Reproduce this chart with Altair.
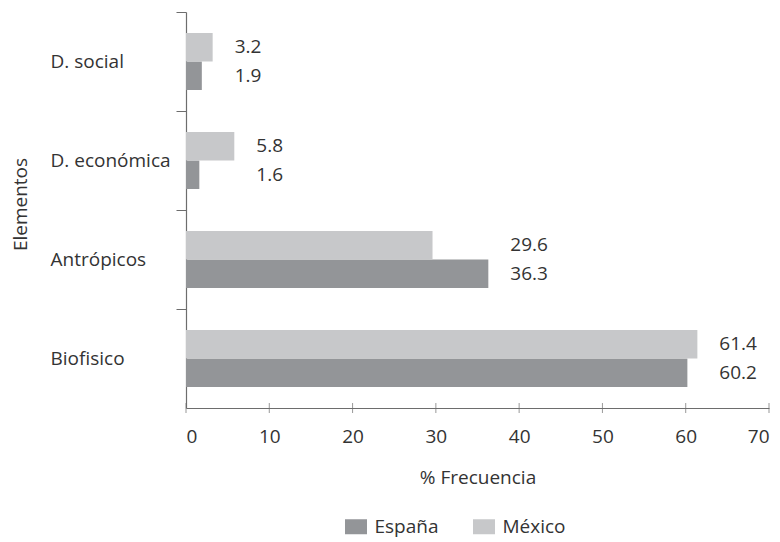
import altair as alt
import pandas as pd

categories = ["D. social", "D. económica", "Antrópicos", "Biofisico"]
espana = [1.9, 1.6, 36.3, 60.2]
mexico = [3.2, 5.8, 29.6, 61.4]
series = ["España", "México"]
x_ticks = [0, 10, 20, 30, 40, 50, 60, 70]

rows = []
for c, e, m in zip(categories, espana, mexico):
    rows.append({"Elemento": c, "Pais": "España", "Valor": e})
    rows.append({"Elemento": c, "Pais": "México", "Valor": m})
df = pd.DataFrame(rows)
tick_df = pd.DataFrame({"t": x_ticks})

FONT = "Open Sans"
FS = 19
TXT = "#333333"
AX = "#6d6d6d"
W, H = 583, 396

yscale = alt.Scale(domain=categories, paddingInner=0.424, paddingOuter=0.212)
xscale = alt.Scale(domain=[0, 70], nice=False)
off = alt.YOffset("Pais:N", sort=["México", "España"])

xaxis = alt.Axis(values=x_ticks, ticks=False, grid=False, labelPadding=34,
                 labelBaseline="alphabetic", title="% Frecuencia", titleY=75,
                 titleBaseline="alphabetic", titleFontWeight="normal")

bars = alt.Chart(df).mark_bar().encode(
    x=alt.X("Valor:Q", scale=xscale, axis=xaxis),
    y=alt.Y("Elemento:N", scale=yscale,
            axis=alt.Axis(title="Elementos", bandPosition=-0.368, tickSize=10,
                          labelAlign="left", labelPadding=126, labelBaseline="middle",
                          titleAngle=270, titleX=-159.5, titleY=192, titleAlign="center",
                          titleBaseline="alphabetic", titleFontWeight="normal")),
    yOffset=off,
    color=alt.Color("Pais:N", scale=alt.Scale(domain=series, range=["#939598", "#c7c8ca"]),
                    legend=alt.Legend(title=None, orient="none", legendX=160.5, legendY=505,
                                      direction="horizontal",
                                      symbolType="M-1.47,-1H1.47V1H-1.47Z", symbolSize=225,
                                      symbolStrokeWidth=0, labelOffset=9, columnPadding=33,
                                      labelFont=FONT, labelFontSize=FS, labelColor=TXT)),
)

labels = alt.Chart(df).transform_joinaggregate(
    mx="max(Valor)", groupby=["Elemento"]
).mark_text(align="left", baseline="middle", dx=22, font=FONT, fontSize=FS, color=TXT).encode(
    x=alt.X("mx:Q", scale=xscale, axis=xaxis),
    y=alt.Y("Elemento:N", scale=yscale),
    yOffset=off,
    text=alt.Text("Valor:Q", format=".1f"),
)

xt = alt.Chart(tick_df).mark_tick(color=AX, size=10, thickness=1, orient="vertical").encode(
    x=alt.X("t:Q", scale=xscale, axis=xaxis),
    y=alt.value(H),
)

chart = alt.layer(bars, labels, xt).properties(
    width=W, height=H,
    autosize=alt.AutoSizeParams(type="none"),
    padding={"left": 178, "top": 4, "right": 3, "bottom": 132},
).configure_view(stroke=None).configure_axis(
    labelFont=FONT, labelFontSize=FS, labelColor=TXT,
    titleFont=FONT, titleFontSize=FS, titleColor=TXT,
    domainColor=AX, tickColor=AX, domainWidth=1.2,
)

chart.save("out.html", embed_options={"renderer": "svg", "actions": False})
